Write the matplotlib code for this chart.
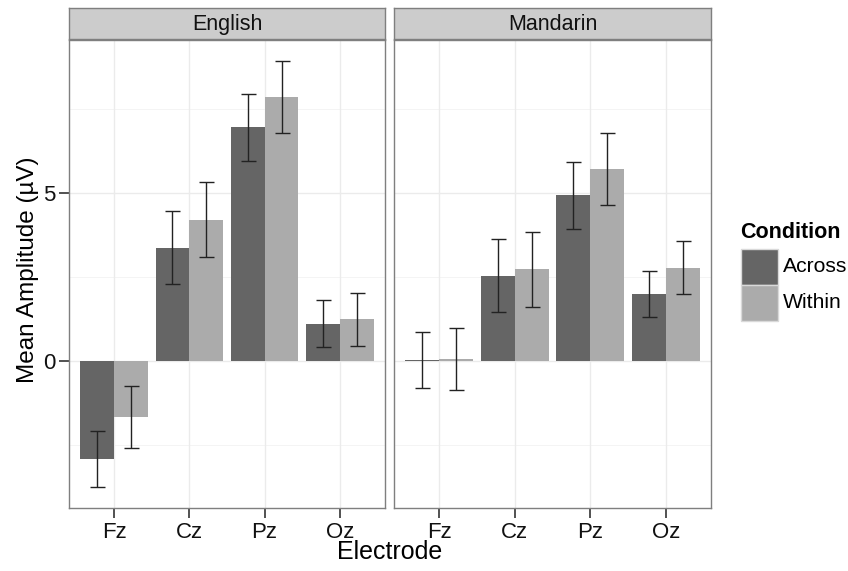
import numpy as np
import matplotlib
matplotlib.use('Agg')
import matplotlib.pyplot as plt
from matplotlib.patches import Rectangle

plt.rcParams['font.family'] = ['Liberation Sans', 'DejaVu Sans']

electrodes = ['Fz', 'Cz', 'Pz', 'Oz']
languages = ['English', 'Mandarin']
conditions = ['Across', 'Within']

# mean amplitude (uV) per language, condition
english_across = [-2.90, 3.38, 6.97, 1.12]
english_within = [-1.66, 4.22, 7.88, 1.25]
mandarin_across = [0.03, 2.55, 4.95, 2.00]
mandarin_within = [0.07, 2.74, 5.73, 2.79]

# error bar half-widths
english_across_err = [0.83, 1.09, 0.99, 0.70]
english_within_err = [0.91, 1.12, 1.07, 0.79]
mandarin_across_err = [0.84, 1.09, 1.00, 0.69]
mandarin_within_err = [0.92, 1.12, 1.07, 0.80]

means = {'English': [english_across, english_within],
         'Mandarin': [mandarin_across, mandarin_within]}
errs = {'English': [english_across_err, english_within_err],
        'Mandarin': [mandarin_across_err, mandarin_within_err]}

fills = ['#656565', '#ababab']

W, H = 848, 571
fig = plt.figure(figsize=(W/100, H/100), dpi=100)

def fx(px): return px / W
def fy(py): return 1 - py / H

panels = [(69, 385), (394, 711)]
top, bot = 40, 508
strip_top = 8

ylim = (-4.37, 9.57)
x = np.arange(len(electrodes))
bw = 0.45

for i, lang in enumerate(languages):
    l, r = panels[i]
    ax = fig.add_axes([fx(l), fy(bot), fx(r - l), fy(top) - fy(bot)])
    ax.set_xlim(-0.6, len(electrodes) - 0.4)
    ax.set_ylim(*ylim)
    # grid
    for g in [-2.5, 2.5, 7.5]:
        ax.axhline(g, color='#f2f2f2', lw=0.6, zorder=0)
    for g in [0, 5]:
        ax.axhline(g, color='#ebebeb', lw=1.0, zorder=0)
    for xx in x:
        ax.axvline(xx, color='#ebebeb', lw=1.0, zorder=0)
    for j, cond in enumerate(conditions):
        pos = x + (j - 0.5) * bw
        vals = means[lang][j]
        ax.bar(pos, vals, width=bw, color=fills[j], zorder=2)
        ax.errorbar(pos, vals, yerr=errs[lang][j], fmt='none', ecolor='#222222',
                    elinewidth=1.0, capsize=5.4, capthick=1.0, zorder=3)
    for s in ax.spines.values():
        s.set_color('#7f7f7f')
        s.set_linewidth(1.0)
    ax.set_xticks(x)
    ax.set_xticklabels(electrodes, fontsize=16, color='#111111')
    ax.tick_params(axis='x', length=7, width=1.2, color='#333333', pad=3)
    if i == 0:
        ax.set_yticks([0, 5])
        ax.set_yticklabels(['0', '5'], fontsize=16, color='#111111')
        ax.tick_params(axis='y', length=7, width=1.2, color='#333333', pad=3)
    else:
        ax.set_yticks([0, 5])
        ax.tick_params(axis='y', length=0, labelleft=False)
    # strip
    sax = fig.add_axes([fx(l), fy(top - 1), fx(r - l), fy(strip_top) - fy(top - 1)])
    sax.set_facecolor('#cccccc')
    sax.set_xticks([])
    sax.set_yticks([])
    for s in sax.spines.values():
        s.set_color('#7f7f7f')
        s.set_linewidth(1.0)
    sax.text(0.5, 0.48, lang, ha='center', va='center', fontsize=15.5,
             color='#111111', transform=sax.transAxes)

fig.text(fx(390), fy(552), 'Electrode', ha='center', va='center', fontsize=18)
fig.text(fx(28), fy(270), 'Mean Amplitude (µV)', ha='center', va='center',
         rotation=90, fontsize=17.5)

# legend
fig.text(fx(740), fy(233), 'Condition', ha='left', va='center', fontsize=15.5,
         fontweight='bold')
key_y = [249, 285]
for j, cond in enumerate(conditions):
    fig.patches.append(Rectangle((fx(741), fy(key_y[j] + 36)), fx(37), fy(key_y[j]) - fy(key_y[j] + 36),
                                 transform=fig.transFigure, facecolor=fills[j],
                                 edgecolor='#d9d9d9', lw=1.0))
    fig.text(fx(783), fy(key_y[j] + 18), cond, ha='left', va='center', fontsize=15.2)

fig.savefig('out.png', dpi=100)
